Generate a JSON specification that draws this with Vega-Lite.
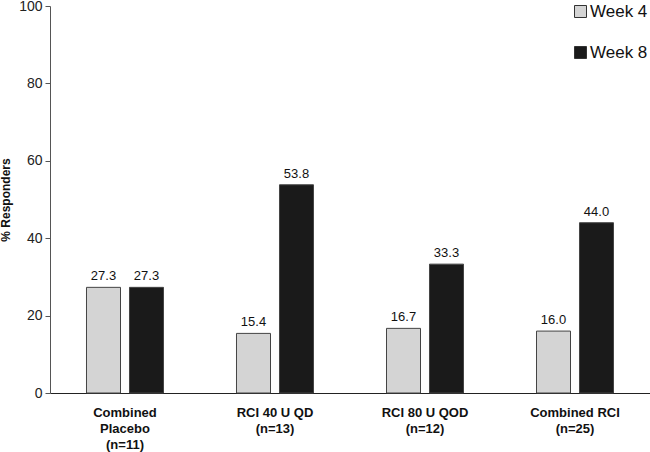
{
  "$schema": "https://vega.github.io/schema/vega-lite/v6.json",
  "autosize": {"type": "none"},
  "padding": {"left": 50, "top": 6, "right": 0, "bottom": 59},
  "width": 600,
  "height": 387,
  "background": "white",
  "config": {
    "font": "Liberation Sans",
    "view": {"stroke": null}
  },
  "data": {
    "values": [
      {"group": "Combined|Placebo|(n=11)", "week": "Week 4", "pct": 27.3},
      {"group": "Combined|Placebo|(n=11)", "week": "Week 8", "pct": 27.3},
      {"group": "RCI 40 U QD|(n=13)", "week": "Week 4", "pct": 15.4},
      {"group": "RCI 40 U QD|(n=13)", "week": "Week 8", "pct": 53.8},
      {"group": "RCI 80 U QOD|(n=12)", "week": "Week 4", "pct": 16.7},
      {"group": "RCI 80 U QOD|(n=12)", "week": "Week 8", "pct": 33.3},
      {"group": "Combined RCI|(n=25)", "week": "Week 4", "pct": 16.0},
      {"group": "Combined RCI|(n=25)", "week": "Week 8", "pct": 44.0}
    ]
  },
  "encoding": {
    "x": {
      "field": "group", "type": "nominal", "sort": null,
      "scale": {"paddingInner": 0.4867, "paddingOuter": 0.2433},
      "axis": {
        "title": null, "labelAngle": 0, "ticks": false,
        "labelExpr": "split(datum.value, '|')",
        "labelFont": "Liberation Sans", "labelFontWeight": "bold", "labelFontSize": 13,
        "labelColor": "#111", "labelPadding": 13, "labelLineHeight": 16,
        "domainColor": "#222", "domainWidth": 1.2
      }
    },
    "xOffset": {"field": "week", "type": "nominal", "scale": {"paddingInner": 0.209, "paddingOuter": 0}},
    "y": {
      "field": "pct", "type": "quantitative",
      "scale": {"domain": [0, 100], "nice": false},
      "axis": {
        "title": "% Responders", "titleFontWeight": "bold", "titleFontSize": 12,
        "titleColor": "#111", "titlePadding": 6,
        "values": [0, 20, 40, 60, 80, 100], "grid": false,
        "labelFontSize": 14, "labelColor": "#222", "labelPadding": 3,
        "tickSize": 5, "tickColor": "#555", "domainColor": "#555"
      }
    }
  },
  "layer": [
    {
      "mark": {"type": "bar", "stroke": "#444", "strokeWidth": 1},
      "encoding": {
        "color": {
          "field": "week", "type": "nominal",
          "scale": {"domain": ["Week 4", "Week 8"], "range": ["#d4d4d4", "#1a1a1a"]},
          "legend": {
            "title": null, "orient": "none", "legendX": 522, "legendY": -3,
            "symbolType": "square", "symbolSize": 144,
            "symbolStrokeColor": "#333", "symbolStrokeWidth": 1,
            "labelFontSize": 17, "labelColor": "#111", "labelOffset": 1,
            "rowPadding": 23, "padding": 0
          }
        }
      }
    },
    {
      "mark": {"type": "text", "dy": -11, "fontSize": 13, "color": "#111"},
      "encoding": {
        "text": {"field": "pct", "type": "quantitative", "format": ".1f"}
      }
    }
  ]
}
